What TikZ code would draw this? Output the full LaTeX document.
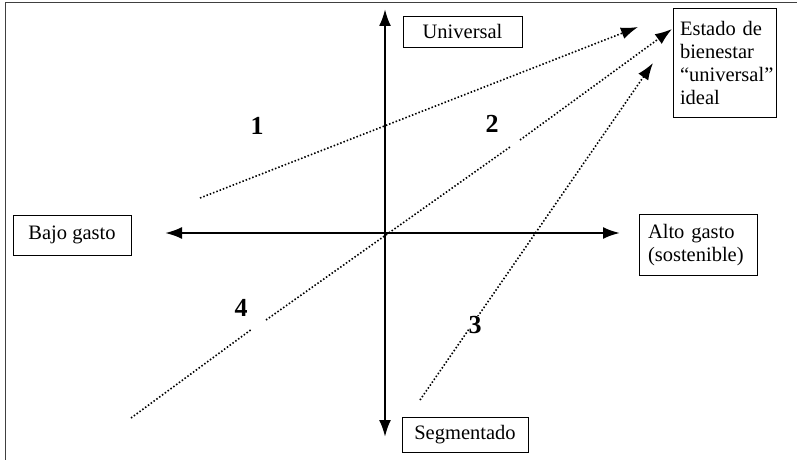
\documentclass[tikz,border=0pt]{standalone}
\usepackage{fontspec}
\setmainfont{Liberation Serif}
\usetikzlibrary{arrows.meta}
\begin{document}
\begin{tikzpicture}[x=1pt,y=-1pt,
  labelbox/.style={draw,line width=0.8pt,inner sep=0pt,font=\fontsize{20.5}{23}\selectfont},
  axisarrow/.style={line width=2.4pt,-{Latex[length=17pt,width=12pt]}},
  dotline/.style={line width=1.6pt,dash pattern=on 1.5pt off 2pt},
  dotarrow/.style={dotline,-{Latex[length=17pt,width=12pt]}},
  numlabel/.style={font=\fontsize{26}{26}\selectfont\bfseries,inner sep=0pt}]
\useasboundingbox (0,0) rectangle (797,460);
% partial frame
\draw[line width=1.8pt,black!75] (5.5,460) -- (5.5,2.5) -- (797,2.5);
% boxes
\node[labelbox,minimum width=119pt,minimum height=31pt] (univ) at (462.5,31.5) {Universal};
\node[labelbox,minimum width=103pt,minimum height=109pt,text width=89pt,align=left] (ideal) at (724.5,62.5)
  {Estado de\\ bienestar\\ “universal”\\ ideal};
\node[labelbox,minimum width=118pt,minimum height=40pt] (bajo) at (72,235) {Bajo gasto};
\node[labelbox,minimum width=118pt,minimum height=61pt,text width=100pt,align=left] (alto) at (698,245)
  {Alto gasto\\ (sostenible)};
\node[labelbox,minimum width=126pt,minimum height=35pt] (segm) at (465,434.5) {Segmentado};
% axes
\coordinate (origin) at (385,233);
\coordinate (ytop) at (385,9);
\coordinate (ybot) at (385,437);
\coordinate (xleft) at (165,233);
\coordinate (xright) at (620,233);
\draw[axisarrow] (origin) -- (ytop);
\draw[axisarrow] (origin) -- (ybot);
\draw[axisarrow] (origin) -- (xleft);
\draw[axisarrow] (origin) -- (xright);
% dotted paths
\coordinate (s1) at (200,198);
\coordinate (t1) at (638,27);
\draw[dotarrow] (s1) -- (t1);
\coordinate (s2) at (131,418);
\coordinate (g2a) at (252,329);
\coordinate (g2b) at (266,320);
\coordinate (g2c) at (510,147);
\coordinate (g2d) at (520,140);
\coordinate (t2) at (672,29);
\draw[dotline] (s2) -- (g2a);
\draw[dotline] (g2b) -- (g2c);
\draw[dotarrow] (g2d) -- (t2);
\coordinate (s3) at (420,400);
\coordinate (t3) at (653,63);
\draw[dotarrow] (s3) -- (t3);
% region numbers
\node[numlabel] (n1) at (257,126) {1};
\node[numlabel] (n2) at (492,124) {2};
\node[numlabel,fill=white] (n3) at (475,325) {3};
\node[numlabel] (n4) at (241,308) {4};
\end{tikzpicture}
\end{document}
